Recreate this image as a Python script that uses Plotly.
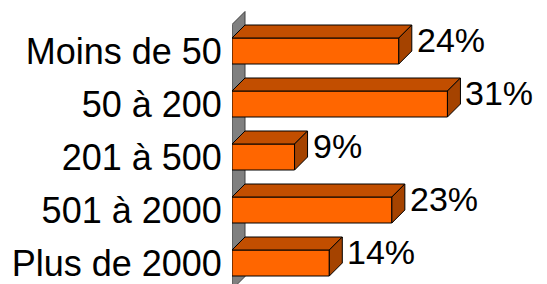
import plotly.graph_objects as go

categories = ["Moins de 50", "50 à 200", "201 à 500", "501 à 2000", "Plus de 2000"]
values = [24, 31, 9, 23, 14]
value_labels = ["24%", "31%", "9%", "23%", "14%"]

W, H = 547, 284
ML = 232
PX_PER_UNIT = 6.95
ROW_PX = 53.0
FIRST_ROW_PX = 51.0
BAR_PX = 26.0
DEPTH_PX = 13.0

xmax = (W - ML) / PX_PER_UNIT
y_top = -FIRST_ROW_PX / ROW_PX
y_bot = (H - FIRST_ROW_PX) / ROW_PX
dx = DEPTH_PX / PX_PER_UNIT
dy = DEPTH_PX / ROW_PX
hw = BAR_PX / ROW_PX / 2

FRONT = "#FF6600"
TOP = "#C24E00"
SIDE = "#A54300"
WALL = "#808080"
EDGE = "#000000"

ypos = list(range(len(categories)))

fig = go.Figure()
fig.add_trace(go.Bar(
    x=values, y=ypos, orientation="h", width=BAR_PX / ROW_PX,
    marker=dict(color=FRONT, line=dict(color=EDGE, width=1)),
    hoverinfo="skip",
))

def path(pts):
    return "M " + " L ".join(f"{x},{y}" for x, y in pts) + " Z"

shapes = []
n = len(categories)
# back wall
shapes.append(dict(
    type="path", xref="x", yref="y", layer="below",
    path=path([(0, -0.5), (dx, -0.5 - dy), (dx, n - 0.5 - dy), (0, n - 0.5)]),
    fillcolor=WALL, line=dict(color="#404040", width=1),
))
for i, v in enumerate(values):
    t = i - hw
    b = i + hw
    shapes.append(dict(
        type="path", xref="x", yref="y", layer="above",
        path=path([(0, t), (v, t), (v + dx, t - dy), (dx, t - dy)]),
        fillcolor=TOP, line=dict(color=EDGE, width=1),
    ))
    shapes.append(dict(
        type="path", xref="x", yref="y", layer="above",
        path=path([(v, t), (v, b), (v + dx, b - dy), (v + dx, t - dy)]),
        fillcolor=SIDE, line=dict(color=EDGE, width=1),
    ))

annotations = []
for i, (v, lab) in enumerate(zip(values, value_labels)):
    annotations.append(dict(
        x=v + dx, y=i - 11.5 / ROW_PX, xref="x", yref="y",
        text=lab, showarrow=False, xanchor="left", yanchor="middle",
        xshift=3, font=dict(family="Liberation Sans, Arial", size=34, color="#000000"),
    ))

fig.update_layout(
    width=W, height=H,
    margin=dict(l=ML, r=0, t=0, b=0),
    paper_bgcolor="white", plot_bgcolor="white",
    showlegend=False,
    shapes=shapes, annotations=annotations,
    xaxis=dict(range=[0, xmax], visible=False, fixedrange=True),
    yaxis=dict(
        range=[y_bot, y_top], tickvals=ypos, ticktext=categories,
        showgrid=False, zeroline=False, showline=False,
        ticks="outside", ticklen=2, tickcolor="rgba(0,0,0,0)",
        tickfont=dict(family="Liberation Sans, Arial", size=36, color="#000000"),
        automargin=False, fixedrange=True,
    ),
)

fig.write_html(
    "out.html",
    config={"displayModeBar": False},
    post_script="document.body.style.margin='0';document.body.style.overflow='hidden';",
)
